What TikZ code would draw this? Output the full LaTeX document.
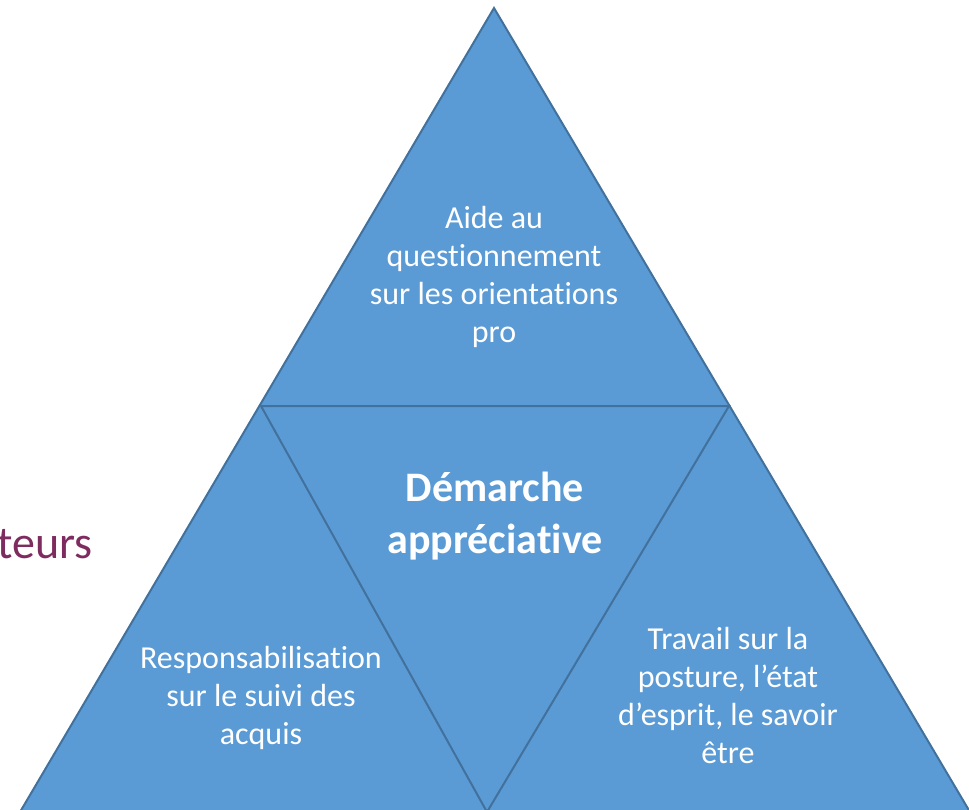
\documentclass[tikz,border=0pt]{standalone}
\usepackage{fontspec}
\setmainfont{Carlito}[Ligatures=NoCommon]
\definecolor{fillblue}{RGB}{91,155,213}
\definecolor{edgeblue}{RGB}{65,113,156}
\definecolor{plum}{RGB}{126,44,96}
\begin{document}
\begin{tikzpicture}[x=1pt,y=-1pt,
  face/.style={fill=fillblue,draw=edgeblue,line width=2pt,line join=miter},
  body/.style={text=white,align=center,font=\fontsize{32}{38}\selectfont},
  title/.style={text=white,align=center,font=\fontsize{42}{52}\selectfont\bfseries},
  side/.style={text=plum,font=\fontsize{46}{52}\selectfont,anchor=base east}]
\useasboundingbox (0,0) rectangle (969,809);
\coordinate (A) at (494,8);
\coordinate (BL) at (20,812);
\coordinate (BR) at (970,812);
\coordinate (ML) at (261,406);
\coordinate (MR) at (729,406);
\coordinate (MB) at (487,812);
\begin{scope}
\clip (0,0) rectangle (969,809);
\draw[face] (A) -- (BR) -- (BL) -- cycle;
\draw[face] (ML) -- (MR) -- (MB) -- cycle;
\end{scope}
\node[body] (top) at (494,277) {Aide au\\questionnement\\sur les orientations\\pro};
\node[title] (mid) at (495,516) {Démarche\\appréciative};
\node[body] (left) at (261,698) {Responsabilisation\\sur le suivi des\\acquis};
\node[body] (right) at (728,695) {Travail sur la\\posture, l’état\\d’esprit, le savoir\\être};
\node[side] (cut) at (96,558) {teurs};
\end{tikzpicture}
\end{document}
